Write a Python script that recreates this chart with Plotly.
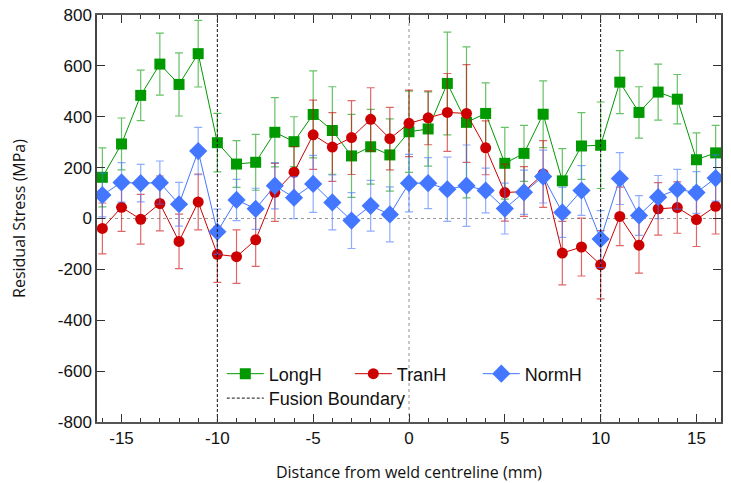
import plotly.graph_objects as go

# distance from weld centreline (mm)
distance = list(range(-16, 17))

long_h = [162, 293, 484, 607, 527, 648, 298, 214,
          221, 339, 302, 409, 346, 246, 282, 250, 341,
          352, 531, 378, 413, 217, 256, 410, 148,
          285, 288, 536, 417, 497, 469, 231, 258]
long_err = [116, 102, 99, 122, 124, 131, 115, 92,
            110, 136, 98, 171, 172, 163, 147, 142, 160,
            146, 202, 297, 120, 141, 110, 131, 127,
            131, 170, 124, 101, 110, 97, 106, 108]

tran_h = [-39, 44, -3, 59, -90, 65, -141, -150,
          -84, 103, 182, 329, 281, 318, 390, 314, 374,
          396, 417, 413, 278, 102, 106, 175, -136,
          -112, -182, 8, -105, 38, 43, -4, 48]
tran_err = [100, 95, 98, 108, 107, 110, 110, 105,
            104, 114, 100, 136, 135, 145, 124, 123, 131,
            106, 153, 192, 106, 112, 98, 131, 125,
            114, 134, 115, 110, 103, 101, 106, 109]

norm_h = [92, 142, 139, 141, 56, 265, -52, 73,
          38, 129, 82, 136, 63, -8, 50, 16, 139,
          139, 115, 129, 110, 39, 103, 165, 24,
          110, -81, 157, 12, 84, 115, 102, 159]
norm_err = [86, 78, 74, 85, 86, 93, 89, 81,
            81, 91, 83, 112, 108, 110, 100, 108, 113,
            100, 126, 160, 88, 100, 87, 104, 98,
            98, 112, 102, 78, 85, 78, 82, 91]

x_ticks = [-15, -10, -5, 0, 5, 10, 15]
y_ticks = [-800, -600, -400, -200, 0, 200, 400, 600, 800]
fusion_x = [-10, 10]
y_range = [-800, 800]

series = [
    ("LongH", long_h, long_err, "#009900", "rgba(0,153,0,0.6)", "square", 11),
    ("TranH", tran_h, tran_err, "#cc0000", "rgba(204,0,0,0.6)", "circle", 11),
    ("NormH", norm_h, norm_err, "#4477ff", "rgba(68,119,255,0.6)", "diamond", 14),
]

fig = go.Figure()

for name, y, err, col, errcol, sym, size in series:
    fig.add_trace(go.Scatter(
        x=distance, y=y, name=name, mode="lines+markers",
        line=dict(color=col, width=1),
        marker=dict(symbol=sym, size=size, color=col),
        error_y=dict(type="data", array=err, color=errcol, thickness=1.2, width=4),
        legend="legend",
    ))

# fusion boundary lines
fb_x, fb_y = [], []
for fx in fusion_x:
    fb_x += [fx, fx, None]
    fb_y += [y_range[0], y_range[1], None]
fig.add_trace(go.Scatter(
    x=fb_x, y=fb_y, mode="lines", name="Fusion Boundary",
    line=dict(color="#111111", width=1, dash="3px,2px"),
    legend="legend2",
))

# zero reference lines
fig.add_shape(type="line", xref="x", yref="y", x0=-16.28, x1=16.28, y0=0, y1=0,
              line=dict(color="#999999", width=1.2, dash="dot"), layer="below")
fig.add_shape(type="line", xref="x", yref="y", x0=0, x1=0, y0=-800, y1=800,
              line=dict(color="#777777", width=0.8, dash="dot"), layer="below")
# white backing behind the legend block (hides the centreline there)
fig.add_shape(type="rect", xref="paper", yref="paper", x0=0.207, x1=0.806,
              y0=0.026, y1=0.144, fillcolor="white", line=dict(width=0),
              layer="below")

axis_font = dict(family="Liberation Sans, Arial, sans-serif", size=17, color="#111111")

fig.update_xaxes(
    range=[-16.28, 16.28], tickvals=x_ticks, ticktext=[str(v) for v in x_ticks],
    ticks="inside", ticklen=8, tickcolor="#333333", tickwidth=1,
    minor=dict(dtick=1, ticks="inside", ticklen=4, tickcolor="#333333"),
    showline=True, linecolor="#555555", linewidth=1.5, mirror="allticks",
    showgrid=False, zeroline=False, tickfont=axis_font, automargin=False,
    title=dict(text="Distance from weld centreline (mm)",
               font=dict(family="Open Sans, sans-serif", size=16, color="#111111"),
               standoff=20),
)
fig.update_yaxes(
    range=y_range, tickvals=y_ticks, ticktext=[str(v) for v in y_ticks],
    ticks="inside", ticklen=8, tickcolor="#333333", tickwidth=1,
    showline=True, linecolor="#444444", linewidth=1.5, mirror="allticks",
    showgrid=False, zeroline=False, tickfont=axis_font, automargin=False,
    title=dict(text="Residual Stress (MPa)",
               font=dict(family="Open Sans, sans-serif", size=16, color="#111111"),
               standoff=28),
)

legend_font = dict(family="Liberation Sans, Arial, sans-serif", size=18, color="#111111")
fig.update_layout(
    width=731, height=483,
    margin=dict(l=97, r=10, t=15, b=61),
    plot_bgcolor="white", paper_bgcolor="white",
    legend=dict(orientation="h", x=0.2, y=0.118, xanchor="left", yanchor="middle",
                bgcolor="rgba(255,255,255,0)", font=legend_font, itemwidth=37,
                entrywidth=76),
    legend2=dict(orientation="h", x=0.2, y=0.058, xanchor="left", yanchor="middle",
                 bgcolor="rgba(255,255,255,0)", font=legend_font, itemwidth=37),
)

fig.write_html("out.html", config={"displayModeBar": False},
               post_script="document.body.style.margin='0px';")
